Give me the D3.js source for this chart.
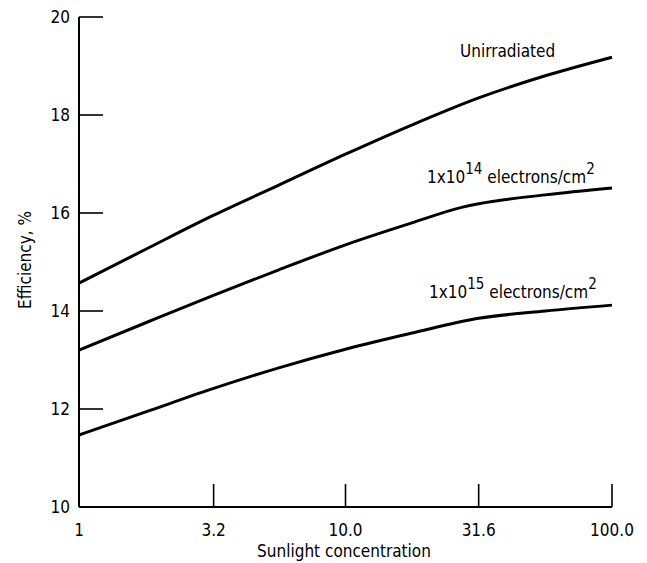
<!DOCTYPE html>
<html><head><meta charset="utf-8">
<script src="https://cdn.jsdelivr.net/npm/d3@7"></script>
<style>body{margin:0;background:#fff}svg{display:block}text{font-family:"Liberation Sans Narrow","DejaVu Sans Condensed",sans-serif;fill:#000}</style>
</head><body><svg id="c" width="647" height="563"></svg>
<script>
const xTicks = [1, 3.2, 10, 31.6, 100];
const xTickLabels = ["1", "3.2", "10.0", "31.6", "100.0"];
const yTicks = [10, 12, 14, 16, 18, 20];
const conc = [1, 1.78, 3.16, 5.62, 10, 17.8, 31.6, 56.2, 100];
const unirradiated = [14.57, 15.26, 15.94, 16.57, 17.2, 17.8, 18.35, 18.8, 19.18];
const conc14 = [1, 1.78, 3.16, 5.62, 10, 17.8, 27.5, 31.6, 56.2, 100];
const e14 = [13.2, 13.76, 14.31, 14.84, 15.35, 15.8, 16.12, 16.19, 16.37, 16.51];
const e15 = [11.47, 11.94, 12.41, 12.84, 13.22, 13.55, 13.85, 14.0, 14.12];

const svg = d3.select("#c");
const x = d3.scaleLog().domain([1, 100]).range([79, 612]);
const y = d3.scaleLinear().domain([10, 20]).range([507, 17]);

const g = svg.append("g");
g.append("line").attr("x1", x(1)).attr("x2", x(1)).attr("y1", y(20)).attr("y2", y(10)).attr("stroke", "#000").attr("stroke-width", 2);
g.append("line").attr("x1", x(1)).attr("x2", x(100)).attr("y1", y(10)).attr("y2", y(10)).attr("stroke", "#000").attr("stroke-width", 2);
yTicks.forEach(t => {
  if (t !== 10) g.append("line").attr("x1", x(1)).attr("x2", x(1) + 24).attr("y1", y(t)).attr("y2", y(t)).attr("stroke", "#000").attr("stroke-width", 1.6);
  g.append("text").attr("x", 70).attr("y", y(t)).attr("dy", "0.36em").attr("text-anchor", "end").attr("font-size", 17).text(t);
});
xTicks.forEach((t, i) => {
  if (t !== 1) g.append("line").attr("x1", x(t)).attr("x2", x(t)).attr("y1", y(10)).attr("y2", y(10) - 23).attr("stroke", "#000").attr("stroke-width", 1.6);
  g.append("text").attr("x", x(t)).attr("y", 536).attr("text-anchor", "middle").attr("font-size", 17).text(xTickLabels[i]);
});
g.append("text").attr("x", 344).attr("y", 557).attr("text-anchor", "middle").attr("font-size", 17).text("Sunlight concentration");
g.append("text").attr("transform", "translate(31,260) rotate(-90)").attr("text-anchor", "middle").attr("font-size", 17).text("Efficiency, %");

const line = d3.line().x(d => x(d[0])).y(d => y(d[1])).curve(d3.curveMonotoneX);
[[conc, unirradiated], [conc14, e14], [conc, e15]].forEach(([cx, cy]) => {
  svg.append("path").datum(cx.map((c, i) => [c, cy[i]])).attr("d", line)
    .attr("fill", "none").attr("stroke", "#000").attr("stroke-width", 3);
});

svg.append("text").attr("x", 460).attr("y", 57).attr("font-size", 17).text("Unirradiated");
function lab(xx, yy, exp) {
  const t = svg.append("text").attr("x", xx).attr("y", yy).attr("font-size", 17);
  t.append("tspan").text("1x10");
  t.append("tspan").attr("dy", -9).attr("font-size", 15).text(exp);
  t.append("tspan").attr("dy", 9).text(" electrons/cm");
  t.append("tspan").attr("dy", -9).attr("font-size", 15).text("2");
}
lab(427, 183, "14");
lab(429, 298, "15");
</script></body></html>
